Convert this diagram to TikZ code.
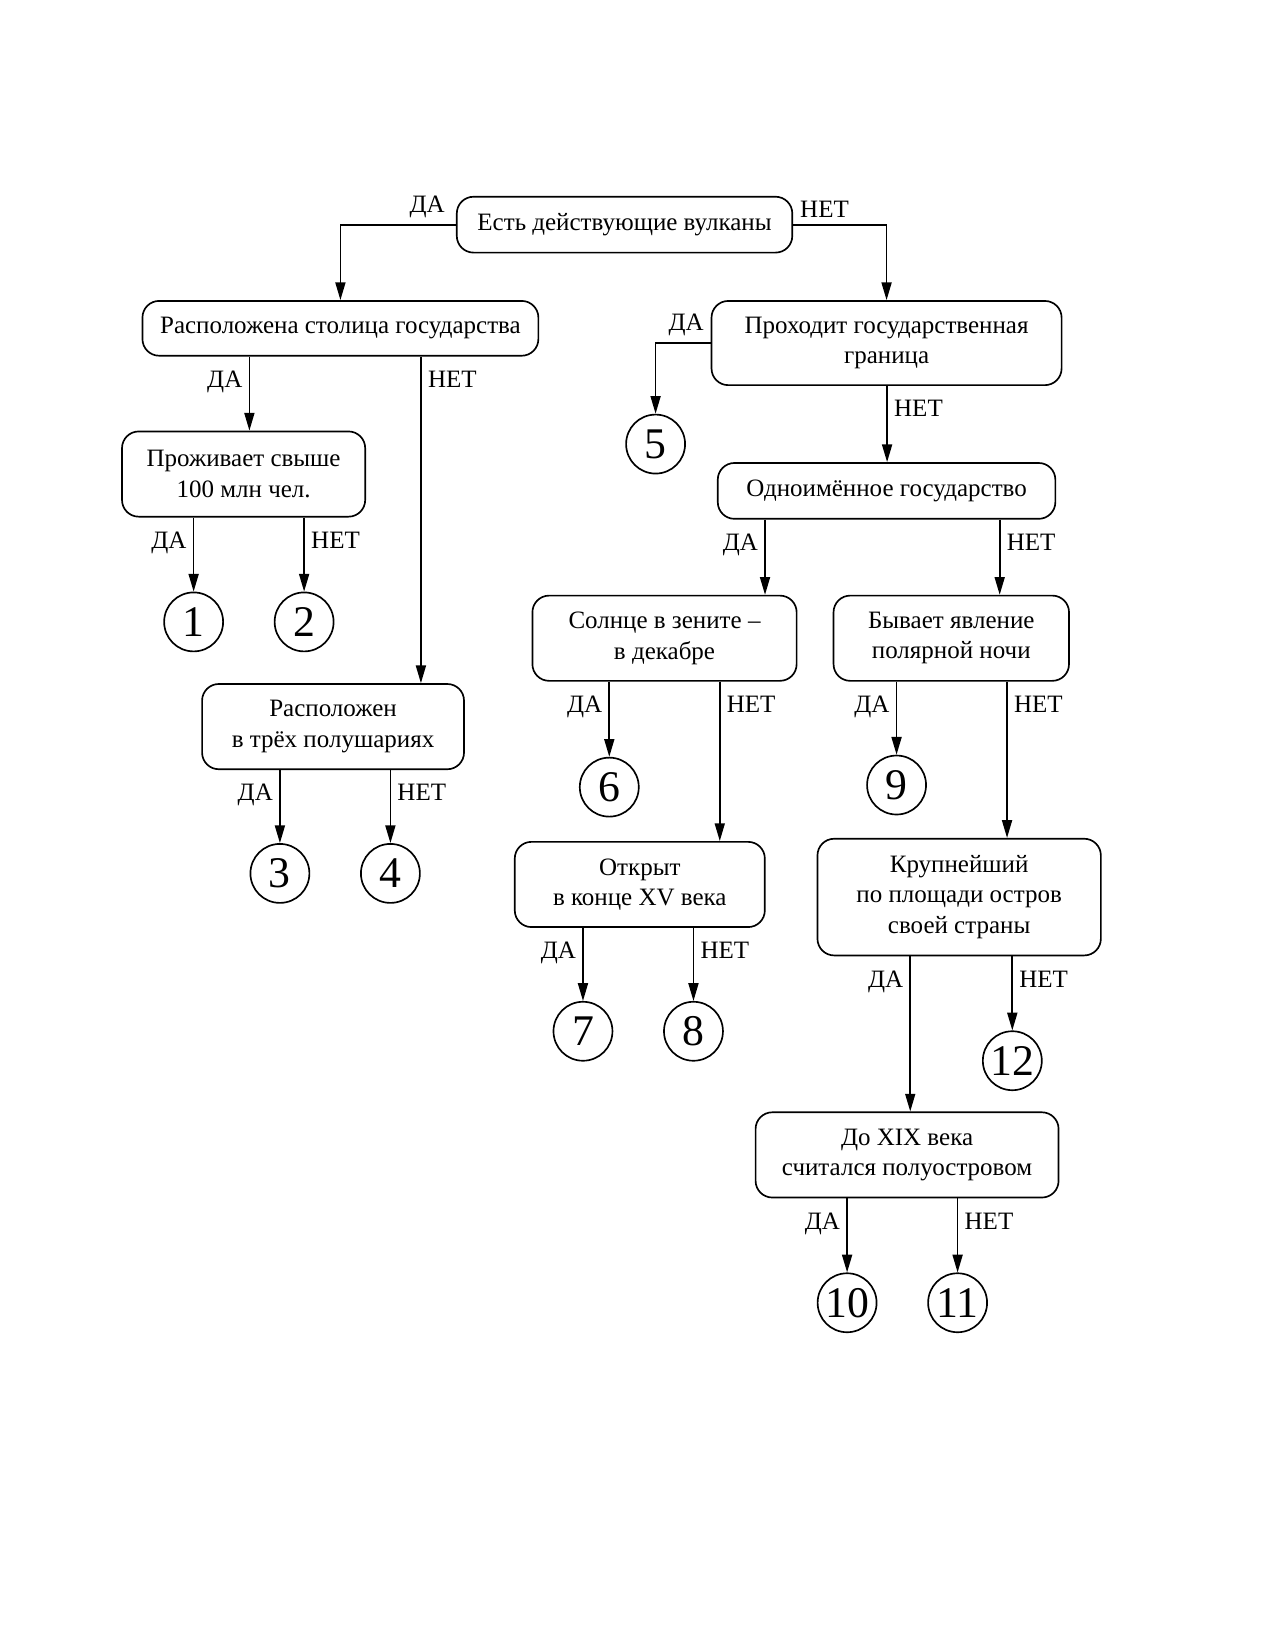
\documentclass[tikz,border=0pt]{standalone}
\usepackage{fontspec}
\setmainfont{Liberation Serif}
\usetikzlibrary{arrows.meta}
\tikzset{
  question/.style={draw, rounded corners=8pt, line width=0.8pt, align=center,
    inner sep=2pt, font=\fontsize{12}{14.6}\selectfont},
  answer/.style={draw, circle, line width=0.8pt, minimum size=28.3pt, inner sep=0pt,
    font=\fontsize{21}{23}\selectfont},
  branch/.style={-{Triangle[length=8.5pt,width=4.8pt]}, line width=0.8pt},
  lbl/.style={font=\fontsize{12}{14}\selectfont, inner sep=3pt},
  down/.style={yshift=-3.5pt}
}
\begin{document}
\begin{tikzpicture}[x=0.505pt, y=-0.505pt]
      \useasboundingbox (0,0) rectangle (1212,1568);
      % questions
      \node[question, minimum width=161pt, minimum height=26.8pt] (vulk) at (593.5,213.5)
        {Есть действующие вулканы};
      \node[question, minimum width=190pt, minimum height=26.3pt] (rasp) at (323.5,312)
        {Расположена столица государства};
      \node[question, minimum width=116.7pt, minimum height=40.9pt] (zhit) at (231.5,450.5)
        {Проживает свыше\\100 млн чел.};
      \node[question, minimum width=125.7pt, minimum height=40.9pt] (polush) at (316.5,690.5)
        {Расположен\\в трёх полушариях};
      \node[question, minimum width=168pt, minimum height=40.4pt] (proh) at (842.5,326)
        {Проходит государственная\\граница};
      \node[question, minimum width=162pt, minimum height=26.8pt] (odno) at (842.5,466.5)
        {Одноимённое государство};
      \node[question, minimum width=126.8pt, minimum height=40.9pt] (solnce) at (631.5,606.5)
        {Солнце в зените –\\в декабре};
      \node[question, minimum width=113pt, minimum height=40.9pt] (byvaet) at (904,606.5)
        {Бывает явление\\полярной ночи};
      \node[question, minimum width=120pt, minimum height=40.9pt] (otkryt) at (608,840.5)
        {Открыт\\в конце XV века};
      \node[question, minimum width=136pt, minimum height=56pt] (krupn) at (911.5,852.5)
        {Крупнейший\\по площади остров\\своей страны};
      \node[question, minimum width=145.4pt, minimum height=40.9pt] (doxix) at (862,1097.5)
        {До XIX века\\считался полуостровом};
      % answers
      \draw
        (184,591) node[answer] (1){1}
        (289,591) node[answer] (2){2}
        (266,830) node[answer] (3){3}
        (371,830) node[answer] (4){4}
        (623,422) node[answer] (5){5}
        (579,748) node[answer] (6){6}
        (554,980) node[answer] (7){7}
        (659,980) node[answer] (8){8}
        (852,746) node[answer] (9){9}
        (805,1238) node[answer] (10){10}
        (910,1238) node[answer] (11){11}
        (962,1008) node[answer] (12){12};
      \begin{scope}[branch]
        \draw (vulk.west) -| node[lbl, pos=0, above left, xshift=-2pt] {ДА} (rasp.north);
        \draw (vulk.east) -| node[lbl, pos=0, above right] {НЕТ} (proh.north);
        \draw (237,0 |- rasp.south) to node[lbl, pos=0, below left, down] {ДА} (237,0 |- zhit.north);
        \draw (400,0 |- rasp.south) to node[lbl, pos=0, below right, down] {НЕТ} (400,0 |- polush.north);
        \draw (zhit.south -| 1) to node[lbl, pos=0, below left, down] {ДА} (1);
        \draw (zhit.south -| 2) to node[lbl, pos=0, below right, down] {НЕТ} (2);
        \draw (polush.south -| 3) to node[lbl, pos=0, below left, down] {ДА} (3);
        \draw (polush.south -| 4) to node[lbl, pos=0, below right, down] {НЕТ} (4);
        \draw (proh.west) -| node[lbl, pos=0, above left] {ДА} (5);
        \draw (843,0 |- proh.south) to node[lbl, pos=0, below right, down] {НЕТ} (843,0 |- odno.north);
        \draw (727,0 |- odno.south) to node[lbl, pos=0, below left, down] {ДА} (727,0 |- solnce.north);
        \draw (950,0 |- odno.south) to node[lbl, pos=0, below right, down] {НЕТ} (950,0 |- byvaet.north);
        \draw (solnce.south -| 6) to node[lbl, pos=0, below left, down] {ДА} (6);
        \draw (684,0 |- solnce.south) to node[lbl, pos=0, below right, down] {НЕТ} (684,0 |- otkryt.north);
        \draw (byvaet.south -| 9) to node[lbl, pos=0, below left, down] {ДА} (9);
        \draw (957,0 |- byvaet.south) to node[lbl, pos=0, below right, down] {НЕТ} (957,0 |- krupn.north);
        \draw (otkryt.south -| 7) to node[lbl, pos=0, below left, down] {ДА} (7);
        \draw (otkryt.south -| 8) to node[lbl, pos=0, below right, down] {НЕТ} (8);
        \draw (865,0 |- krupn.south) to node[lbl, pos=0, below left, down] {ДА} (865,0 |- doxix.north);
        \draw (krupn.south -| 12) to node[lbl, pos=0, below right, down] {НЕТ} (12);
        \draw (doxix.south -| 10) to node[lbl, pos=0, below left, down] {ДА} (10);
        \draw (doxix.south -| 11) to node[lbl, pos=0, below right, down] {НЕТ} (11);
      \end{scope}
    \end{tikzpicture}
\end{document}
